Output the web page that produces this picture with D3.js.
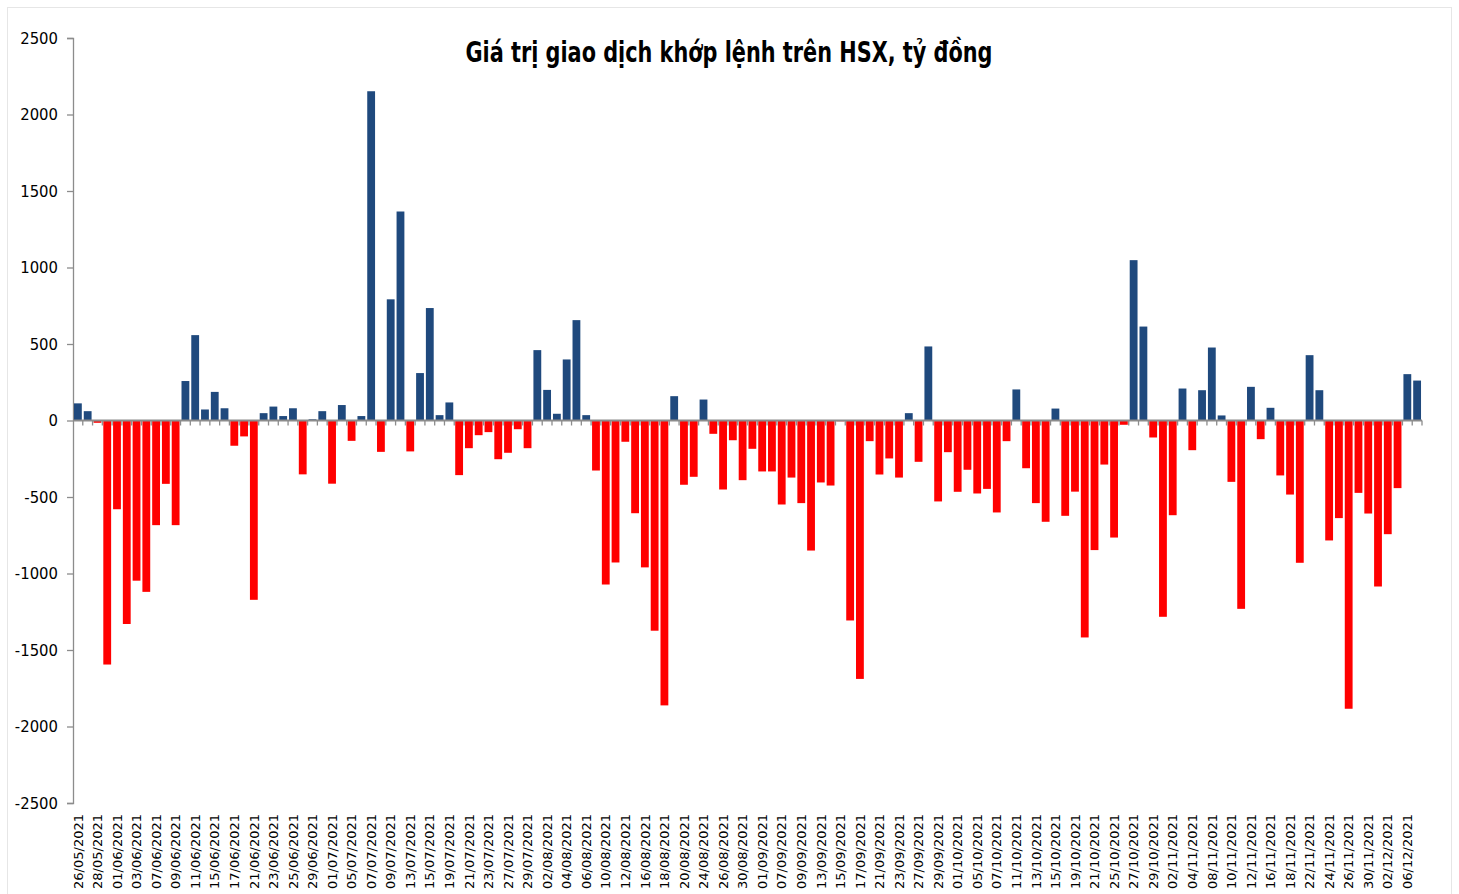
<!DOCTYPE html>
<html>
<head>
<meta charset="utf-8">
<script src="https://cdn.jsdelivr.net/npm/d3@7"></script>
<style>
  body { margin: 0; background: #fff; }
  .title { font-family: 'DejaVu Sans Condensed', sans-serif; font-weight: bold; font-size: 28px; fill: #000; }
  .y-axis text { font-family: 'DejaVu Sans Condensed', sans-serif; font-size: 16.5px; fill: #000; }
  .x-labels text { font-family: 'DejaVu Sans', Verdana, sans-serif; font-size: 13px; fill: #000; }
</style>
</head>
<body>
<svg width="1459" height="894"></svg>
<script>
const dates = [
  '26/05/2021','27/05/2021','28/05/2021','31/05/2021',
  '01/06/2021','02/06/2021','03/06/2021','04/06/2021','07/06/2021','08/06/2021','09/06/2021','10/06/2021','11/06/2021',
  '14/06/2021','15/06/2021','16/06/2021','17/06/2021','18/06/2021','21/06/2021','22/06/2021','23/06/2021','24/06/2021','25/06/2021',
  '28/06/2021','29/06/2021','30/06/2021',
  '01/07/2021','02/07/2021','05/07/2021','06/07/2021','07/07/2021','08/07/2021','09/07/2021','12/07/2021','13/07/2021','14/07/2021',
  '15/07/2021','16/07/2021','19/07/2021','20/07/2021','21/07/2021','22/07/2021','23/07/2021','26/07/2021','27/07/2021','28/07/2021',
  '29/07/2021','30/07/2021',
  '02/08/2021','03/08/2021','04/08/2021','05/08/2021','06/08/2021','09/08/2021','10/08/2021','11/08/2021','12/08/2021','13/08/2021',
  '16/08/2021','17/08/2021','18/08/2021','19/08/2021','20/08/2021','23/08/2021','24/08/2021','25/08/2021','26/08/2021','27/08/2021',
  '30/08/2021','31/08/2021',
  '01/09/2021','06/09/2021','07/09/2021','08/09/2021','09/09/2021','10/09/2021','13/09/2021','14/09/2021','15/09/2021','16/09/2021',
  '17/09/2021','20/09/2021','21/09/2021','22/09/2021','23/09/2021','24/09/2021','27/09/2021','28/09/2021','29/09/2021','30/09/2021',
  '01/10/2021','04/10/2021','05/10/2021','06/10/2021','07/10/2021','08/10/2021','11/10/2021','12/10/2021','13/10/2021','14/10/2021',
  '15/10/2021','18/10/2021','19/10/2021','20/10/2021','21/10/2021','22/10/2021','25/10/2021','26/10/2021','27/10/2021','28/10/2021',
  '29/10/2021',
  '01/11/2021','02/11/2021','03/11/2021','04/11/2021','05/11/2021','08/11/2021','09/11/2021','10/11/2021','11/11/2021','12/11/2021',
  '15/11/2021','16/11/2021','17/11/2021','18/11/2021','19/11/2021','22/11/2021','23/11/2021','24/11/2021','25/11/2021','26/11/2021',
  '29/11/2021','30/11/2021',
  '01/12/2021','02/12/2021','03/12/2021','06/12/2021','07/12/2021'
];

const values = [
  112, 61, -15, -1595,
  -580, -1330, -1047, -1120, -684, -414, -684, 258, 558,
  72, 187, 80, -165, -104, -1172, 48, 91, 29, 80,
  -352, 8, 61,
  -413, 101, -133, 29, 2152, -205, 792, 1366, -202, 310,
  735, 35, 118, -357, -181, -96, -76, -253, -211, -57,
  -181, 460,
  200, 44, 399, 656, 35, -327, -1072, -928, -139, -606,
  -960, -1374, -1862, 159, -420, -368, 137, -87, -451, -129,
  -390, -185,
  -333, -333, -549, -373, -540, -850, -405, -425, -5, -1307,
  -1689, -135, -353, -248, -373, 48, -270, 484, -529, -207,
  -466, -322, -477, -447, -601, -135, 203, -312, -540, -662,
  78, -623, -465, -1418, -847, -288, -765, -28, 1048, 614,
  -111,
  -1283, -619, 209, -194, 198, 477, 33, -401, -1231, 220,
  -122, 83, -359, -484, -930, 427, 198, -784, -638, -1884,
  -473, -608,
  -1085, -743, -442, 303, 261
];

// every other trading day gets a label
const labelDates = [
  '26/05/2021','28/05/2021','01/06/2021','03/06/2021','07/06/2021','09/06/2021','11/06/2021','15/06/2021','17/06/2021',
  '21/06/2021','23/06/2021','25/06/2021','29/06/2021','01/07/2021','05/07/2021','07/07/2021','09/07/2021','13/07/2021',
  '15/07/2021','19/07/2021','21/07/2021','23/07/2021','27/07/2021','29/07/2021','02/08/2021','04/08/2021','06/08/2021',
  '10/08/2021','12/08/2021','16/08/2021','18/08/2021','20/08/2021','24/08/2021','26/08/2021','30/08/2021','01/09/2021',
  '07/09/2021','09/09/2021','13/09/2021','15/09/2021','17/09/2021','21/09/2021','23/09/2021','27/09/2021','29/09/2021',
  '01/10/2021','05/10/2021','07/10/2021','11/10/2021','13/10/2021','15/10/2021','19/10/2021','21/10/2021','25/10/2021',
  '27/10/2021','29/10/2021','02/11/2021','04/11/2021','08/11/2021','10/11/2021','12/11/2021','16/11/2021','18/11/2021',
  '22/11/2021','24/11/2021','26/11/2021','30/11/2021','02/12/2021','06/12/2021'
];

const yTicks = [2500, 2000, 1500, 1000, 500, 0, -500, -1000, -1500, -2000, -2500];
const chartTitle = 'Giá trị giao dịch khớp lệnh trên HSX, tỷ đồng';

const svg = d3.select('svg');
const width = +svg.attr('width');
const height = +svg.attr('height');

const render = data => {
  const margin = { top: 38, right: 37, bottom: 91, left: 73 };
  const innerWidth = width - margin.left - margin.right;
  const innerHeight = height - margin.top - margin.bottom;
  const axisColor = '#8c8c8c';

  // light frame round the chart
  svg.append('rect')
    .attr('x', 7.5).attr('y', 7.5)
    .attr('width', width - 15).attr('height', height)
    .attr('fill', 'none')
    .attr('stroke', '#e6e6e6');

  const g = svg.append('g')
    .attr('transform', `translate(${margin.left},${margin.top})`);

  const xScale = d3.scaleBand()
    .domain(data.map(d => d.date))
    .range([0, innerWidth])
    .paddingInner(0.2)
    .paddingOuter(0.1);

  const yScale = d3.scaleLinear()
    .domain([-2500, 2500])
    .range([innerHeight, 0]);

  const yAxisG = g.append('g')
    .attr('class', 'y-axis')
    .call(d3.axisLeft(yScale).tickValues(yTicks).tickSize(6).tickPadding(9).tickFormat(d => String(d)));
  yAxisG.selectAll('line, path').attr('stroke', axisColor).attr('stroke-width', 1.3);

  g.selectAll('rect.bar').data(data)
    .enter().append('rect')
      .attr('class', 'bar')
      .attr('x', d => xScale(d.date))
      .attr('y', d => yScale(Math.max(0, d.value)))
      .attr('width', xScale.bandwidth())
      .attr('height', d => Math.abs(yScale(d.value) - yScale(0)))
      .attr('fill', d => d.value >= 0 ? '#1f497d' : '#ff0000');

  // zero line with small ticks between categories
  const step = xScale.step();
  const y0 = yScale(0);
  g.append('line')
    .attr('x1', 0).attr('x2', innerWidth)
    .attr('y1', y0).attr('y2', y0)
    .attr('stroke', axisColor).attr('stroke-width', 2);
  g.selectAll('line.cat-tick').data(data)
    .enter().append('line')
      .attr('class', 'cat-tick')
      .attr('x1', d => xScale(d.date) + xScale.bandwidth() + (step - xScale.bandwidth()) / 2)
      .attr('x2', d => xScale(d.date) + xScale.bandwidth() + (step - xScale.bandwidth()) / 2)
      .attr('y1', y0).attr('y2', y0 + 5)
      .attr('stroke', axisColor).attr('stroke-width', 1.3);

  // date labels along the bottom
  const xAxisG = g.append('g')
    .attr('class', 'x-labels')
    .attr('transform', `translate(0,${innerHeight})`)
    .call(d3.axisBottom(xScale).tickValues(labelDates).tickSize(0));
  xAxisG.select('.domain').remove();
  xAxisG.selectAll('text')
    .attr('transform', 'rotate(-90)')
    .attr('x', -11)
    .attr('y', 0)
    .attr('dy', '0.36em')
    .attr('text-anchor', 'end');

  svg.append('text')
    .attr('class', 'title')
    .attr('x', 729)
    .attr('y', 62)
    .attr('text-anchor', 'middle')
    .attr('textLength', 527)
    .attr('lengthAdjust', 'spacingAndGlyphs')
    .text(chartTitle);
};

const data = dates.map((date, i) => ({ date, value: values[i] }));
render(data);
</script>
</body>
</html>
